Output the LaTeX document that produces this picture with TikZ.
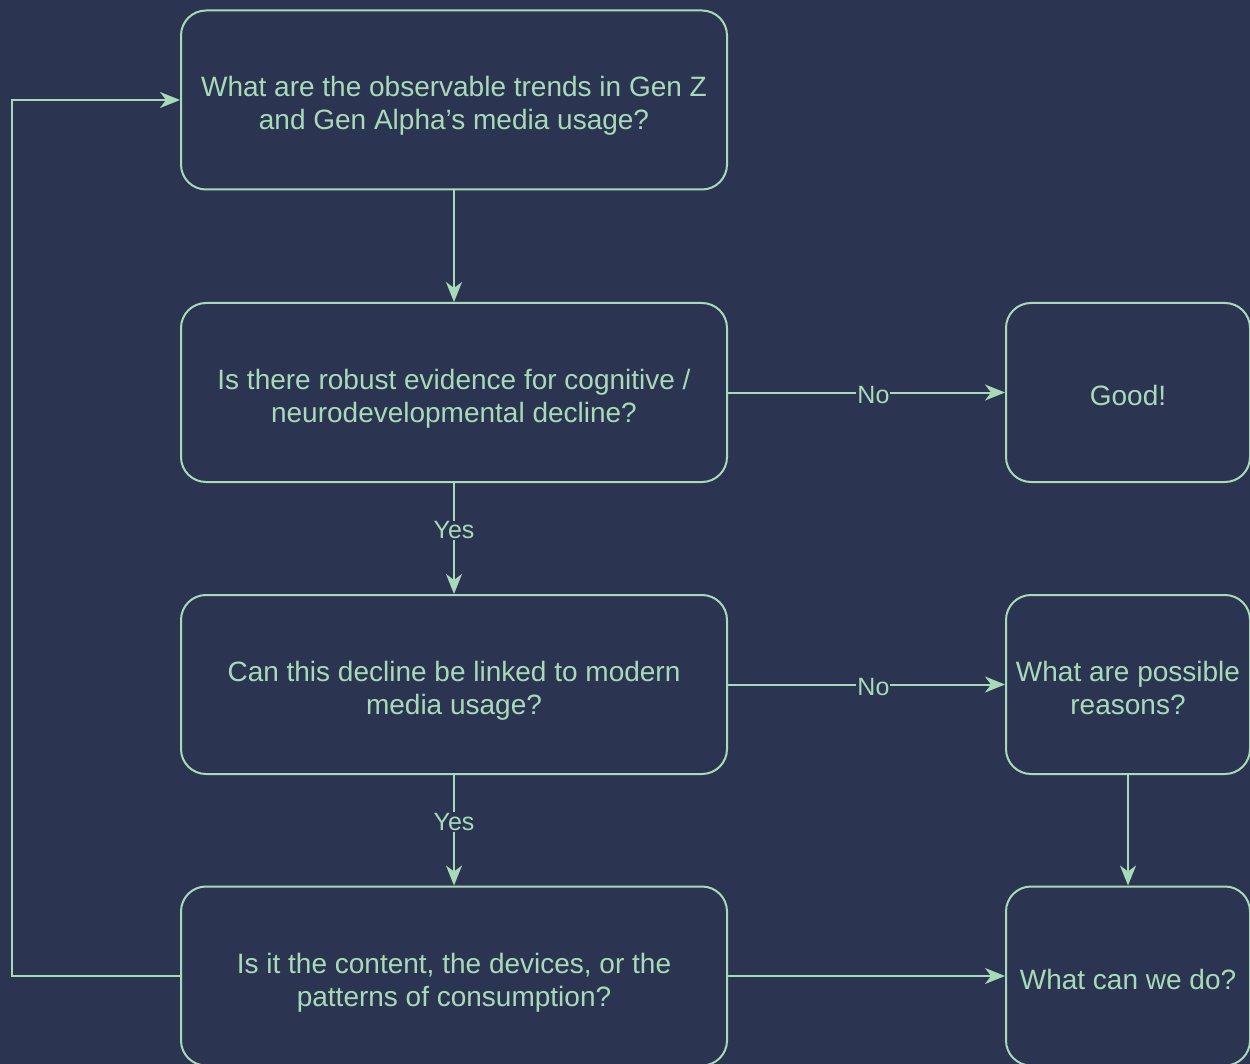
\documentclass[tikz,border=0pt]{standalone}
\usepackage{fontspec}
\setmainfont{Liberation Sans}
\usetikzlibrary{arrows.meta}
\definecolor{bg}{HTML}{2B3551}
\definecolor{ln}{HTML}{A8DAB8}
\begin{document}
\begin{tikzpicture}[x=1pt,y=-1pt,
  box/.style={draw=ln,line width=2pt,rounded corners=25pt,fill=bg,text=ln,
    minimum width=546pt,minimum height=179pt,align=center,inner sep=0pt,
    text depth=4pt,font=\fontsize{28}{33}\selectfont},
  two/.style={text height=64pt},
  one/.style={text height=30.4pt},
  sbox/.style={box,minimum width=244pt},
  conn/.style={draw=ln,line width=2pt,-{Stealth[length=20pt,width=16pt,inset=6pt]}},
  lbl/.style={fill=bg,text=ln,inner sep=1pt,yshift=-3pt,font=\fontsize{25}{27}\selectfont}]
\useasboundingbox (0,0) rectangle (1250,1064);
\fill[bg] (0,0) rectangle (1250,1064);
\node[box,two] (b1) at (454,100) {What are the observable trends in Gen Z\\and Gen Alpha's media usage?};
\node[box,two] (b2) at (454,392.5) {Is there robust evidence for cognitive /\\neurodevelopmental decline?};
\node[box,two] (b3) at (454,684.5) {Can this decline be linked to modern\\media usage?};
\node[box,two] (b4) at (454,976) {Is it the content, the devices, or the\\patterns of consumption?};
\node[sbox,one] (r1) at (1128,392.5) {Good!};
\node[sbox,two] (r2) at (1128,684.5) {What are possible\\reasons?};
\node[sbox,one] (r3) at (1128,976) {What can we do?};
\coordinate (c1) at (12,976);
\coordinate (c2) at (12,100);
\draw[conn] (b1) -- (b2);
\draw[conn] (b2) -- node[lbl,pos=0.525]{No} (r1);
\draw[conn] (b2) -- node[lbl,pos=0.4]{Yes} (b3);
\draw[conn] (b3) -- node[lbl,pos=0.525]{No} (r2);
\draw[conn] (b3) -- node[lbl,pos=0.4]{Yes} (b4);
\draw[conn] (r2) -- (r3);
\draw[conn] (b4) -- (r3);
\draw[conn] (b4.west) -- (c1) -- (c2) -- (b1.west);
\end{tikzpicture}
\end{document}
